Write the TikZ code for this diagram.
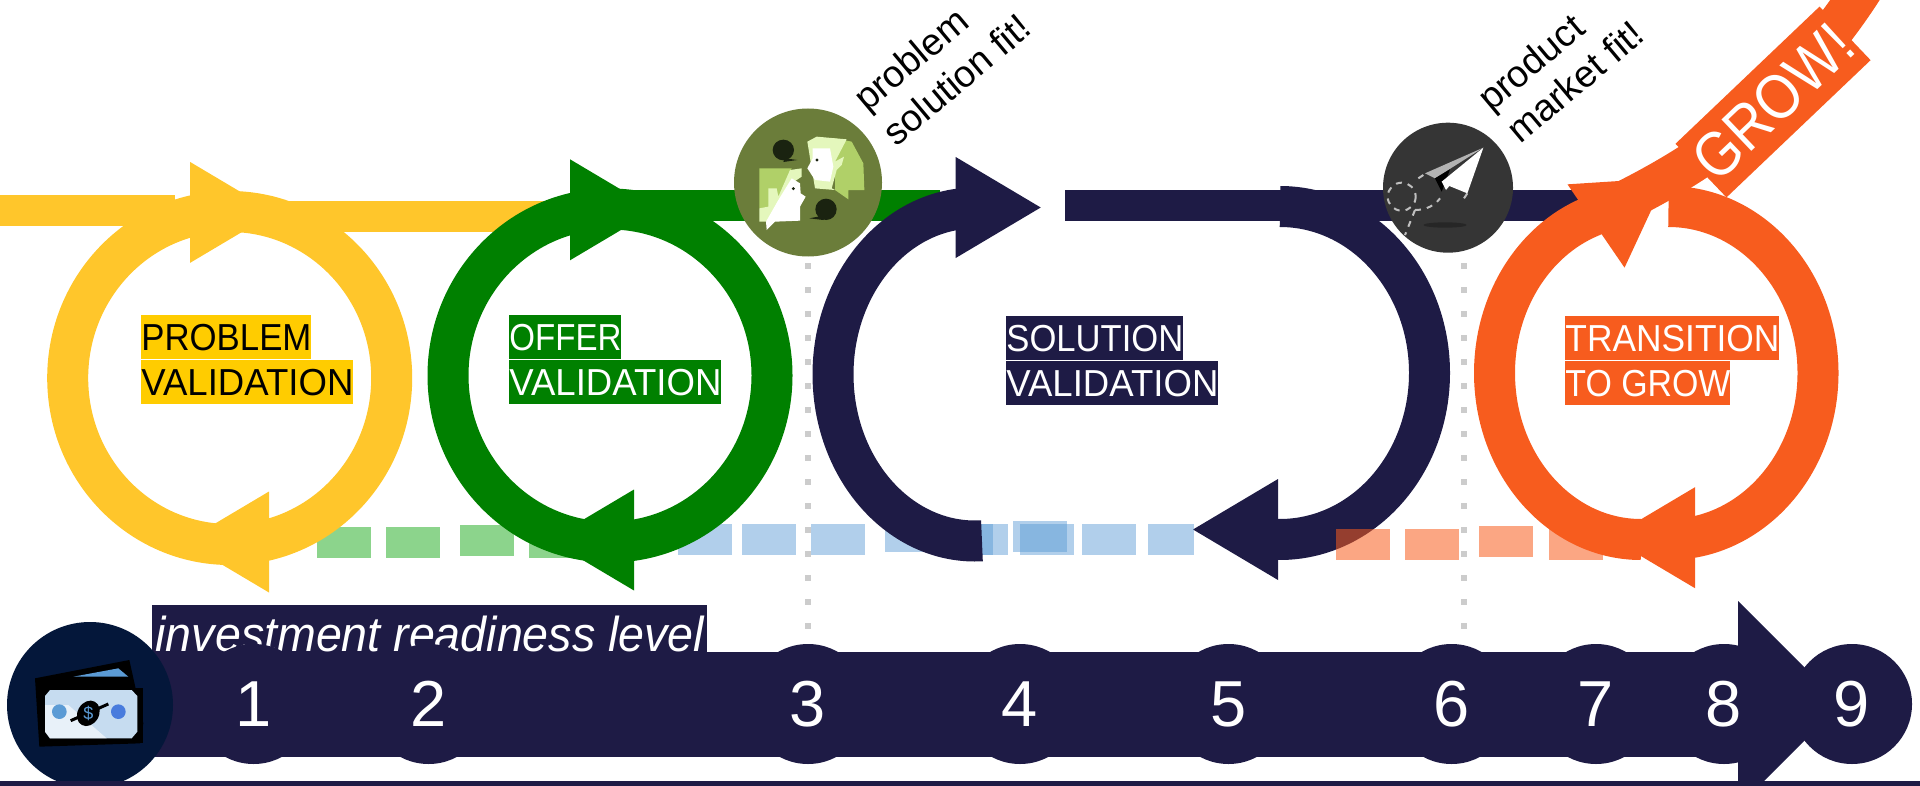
\documentclass[tikz,border=0pt]{standalone}
\usepackage{fontspec}
\usepackage{graphicx}
\usepackage{tikz}
\setmainfont{Liberation Sans}
\newfontfamily\tagfont[FakeStretch=0.95]{Liberation Sans}
\definecolor{sunc}{HTML}{FFC62B}
\definecolor{sunbg}{HTML}{FFCC00}
\definecolor{leafc}{HTML}{008000}
\definecolor{mintc}{HTML}{00A000}
\definecolor{skyc}{HTML}{5B9BD5}
\definecolor{nightc}{HTML}{1E1B45}
\definecolor{flamec}{HTML}{F75C1E}
\definecolor{olivec}{HTML}{6B7D3A}
\definecolor{limec}{HTML}{B0D068}
\definecolor{palec}{HTML}{E4F7BC}
\definecolor{inkc}{HTML}{1A2310}
\definecolor{coalc}{HTML}{353535}
\definecolor{deepc}{HTML}{04173A}
% big arrow head: base centre at (#1,#2), turned by #3
\newcommand{\bighead}[4]{\fill[#4, shift={(#1,#2)}, rotate=#3] (0,-50.5) -- (85,0) -- (0,50.5) -- cycle;}

\begin{document}
\begin{tikzpicture}[
    x=0.5pt, y=-0.5pt,
    ring/.style={line width=20.5pt},
    tagbox/.style={anchor=north west, inner sep=0pt, minimum height=22pt, font=\fontsize{18.8}{22}\selectfont},
    numdot/.style={circle, fill=nightc, text=white, inner sep=0pt, minimum size=60pt, font=\fontsize{32.5}{39}\selectfont},
    fitnote/.style={rotate=40, anchor=base west, inner sep=0pt, font=\fontsize{18.8}{23}\selectfont},
    dotline/.style={draw=black!20, line width=3pt, dash pattern=on 3pt off 9pt}
]
    \path[use as bounding box, clip] (0,0) rectangle (1920,786);

    % Bars behind the loops
    \fill[sunc] (0,195) rectangle (175,226);
    \fill[sunc] (174,201) rectangle (560,232);
    \fill[leafc] (625,190) rectangle (940,221);
    \fill[nightc] (1065,190) rectangle (1590,221);

    % Right half of the solution loop
    \draw[ring, nightc] (1280,373) ++(-90:149.5 and 166.5) arc[start angle=-90, end angle=93, x radius=149.5, y radius=166.5];
    \bighead{1278}{529.5}{180}{nightc}

    % Dashes under the loops
    \foreach \xa/\ya in {317/527, 386/527, 460/525, 529/527} {
        \fill[mintc, opacity=.45] (\xa,\ya) rectangle ++(54,31);
    }
    \foreach \xa/\ya in {678/524, 742/524, 811/524, 885/521, 939/524, 954/524, 1013/521, 1020/524, 1082/524} {
        \fill[skyc, opacity=.48] (\xa,\ya) rectangle ++(54,31);
    }
    \fill[skyc, opacity=.48] (1148,524) rectangle (1194,555);
    \foreach \xa/\ya in {1336/529, 1405/529, 1479/526, 1549/529} {
        \fill[flamec, opacity=.55] (\xa,\ya) rectangle ++(54,31);
    }

    % Loops
    \draw[ring, sunc] (229.7,378) ellipse [x radius=162, y radius=166.5];
    \bighead{190}{212.4}{0}{sunc}
    \bighead{269}{542}{180}{sunc}

    \draw[ring, leafc] (610,375.5) ellipse [x radius=162, y radius=166.5];
    \bighead{570}{209.8}{0}{leafc}
    \bighead{634}{540}{180}{leafc}

    \draw[ring, nightc] (975,374.5) ++(87.2:142 and 166.5) arc[start angle=87.2, end angle=265, x radius=142, y radius=166.5];
    \bighead{955.7}{207.5}{0}{nightc}

    \draw[ring, flamec] (1668.5,373) ++(-90:149.5 and 166.5) arc[start angle=-90, end angle=90, x radius=149.5, y radius=166.5];
    \bighead{1695}{537.7}{180}{flamec}
    \draw[ring, flamec] (1641,373) ++(90:146.5 and 166.5) arc[start angle=90, end angle=249.6, x radius=146.5, y radius=166.5]
        .. controls (1625,202) and (1660,183) .. (1687,166) .. controls (1760,120) and (1825,50) .. (1868,-20);
    \bighead{1596}{226}{34.4}{flamec}

    % Text tags inside the loops
    \foreach \id/\xa/\ya/\txta/\wa/\txtb/\wb/\bg/\fg in {
        prob/141/315/PROBLEM/85pt/VALIDATION/106pt/sunbg/black,
        offer/509/315/OFFER/56pt/VALIDATION/106pt/leafc/white,
        sol/1006/316/SOLUTION/88.5pt/VALIDATION/106pt/nightc/white,
        trans/1565/316/TRANSITION/107pt/TO GROW/82.5pt/flamec/white} {
        \node[tagbox, fill=\bg, text=\fg, minimum width=\wa] (\id A) at (\xa,\ya) {\resizebox{\wa}{\height}{\txta}};
        \node[tagbox, fill=\bg, text=\fg, minimum width=\wb] (\id B) at (\id A.south west) {\resizebox{\wb}{\height}{\txtb}};
    }

    % Grow label
    \node[rotate=43.6, fill=flamec, text=white, inner sep=0pt, minimum width=99.5pt, minimum height=37pt, font=\fontsize{31.5}{37}\selectfont] (grow) at (1773,102) {\resizebox{97pt}{\height}{GROW!}};

    % Fit markers
    \node[circle, fill=olivec, inner sep=0pt, minimum size=74pt] (fitA) at (808,182.5) {};
    \node[circle, fill=coalc, inner sep=0pt, minimum size=65pt] (fitB) at (1448,187.7) {};
    \coordinate (fitAtop) at (808,263);
    \coordinate (fitAend) at (808,630);
    \coordinate (fitBtop) at (1464,263);
    \coordinate (fitBend) at (1464,630);
    \draw[dotline] (fitAtop) -- (fitAend);
    \draw[dotline] (fitBtop) -- (fitBend);

    \node[fitnote] (noteA) at (867,113) {problem};
    \node[fitnote] (noteB) at (896,148) {solution fit!};
    \node[fitnote] (noteC) at (1491,113) {product};
    \node[fitnote] (noteD) at (1520,145) {market fit!};

    % Two faces talking
    \begin{scope}[shift={(720,100)}, x=0.16667pt, y=-0.16667pt]
        \fill[inkc] (190,150) ellipse [x radius=32, y radius=31];
        \fill[inkc] (195,175) -- (232,180) -- (190,186) -- cycle;
        \fill[inkc] (318,328) ellipse [x radius=32, y radius=32];
        \fill[inkc] (320,345) -- (268,355) -- (310,360) -- cycle;
        \fill[limec] (345,115) -- (395,125) -- (430,190) -- (433,270) -- (385,270) -- (385,298) -- (345,270) -- cycle;
        \fill[palec] (262,125) -- (290,110) -- (380,118) -- (345,185) -- (372,170) -- (365,195) -- (350,210) -- (335,265) -- (345,270) -- (285,265) -- cycle;
        \fill[white] (278,145) -- (330,145) -- (340,200) -- (330,245) -- (285,240) -- (262,205) -- (278,175) -- cycle;
        \fill[inkc] (291,180) circle [radius=5];
        \fill[limec] (118,205) -- (215,205) -- (170,325) -- (118,325) -- cycle;
        \fill[palec] (210,210) -- (245,205) -- (245,230) -- (215,250) -- (180,330) -- (150,365) -- (118,365) -- (118,325) -- (145,320) -- (145,265) -- (170,265) -- (175,290) -- cycle;
        \fill[white] (215,235) -- (240,250) -- (242,280) -- (257,290) -- (240,320) -- (240,362) -- (165,365) -- (140,390) -- (138,365) -- (175,300) -- cycle;
        \fill[inkc] (220,266) circle [radius=5];
    \end{scope}

    % Paper plane
    \begin{scope}[shift={(1370,110)}, x=0.16667pt, y=-0.16667pt]
        \fill[black!85] (225,345) ellipse [x radius=65, y radius=8];
        \draw[black!25, line width=1pt, dashed] (95,260) ellipse [x radius=42, y radius=42];
        \draw[black!25, line width=1pt, dashed] (135,300) -- (105,375);
        \draw[black!25, line width=1pt, dashed] (135,300) .. controls (170,300) and (195,285) .. (210,265);
        \draw[black!25, line width=1pt, dashed] (160,195) -- (145,205);
        \draw[black!25, line width=1pt, dashed] (292,250) -- (280,268);
        \fill[black!30] (340,113) -- (165,190) -- (195,205) -- cycle;
        \fill[black] (195,205) -- (215,245) -- (240,178) -- cycle;
        \fill[white] (340,113) -- (215,215) -- (228,240) -- (238,228) -- (292,250) -- cycle;
    \end{scope}

    % Readiness level bar
    \fill[nightc] (150,652) rectangle (1738,757);
    \fill[nightc] (1738,601) -- (1841,704) -- (1738,807) -- cycle;
    \node[anchor=north west, fill=nightc, text=white, inner sep=0pt, minimum width=277.5pt, minimum height=28.5pt, font=\tagfont\itshape\fontsize{24.5}{28}\selectfont] (level) at (152,605) {investment readiness level};
    \foreach \i/\xa in {1/253.6, 2/428.6, 3/808, 4/1020, 5/1228.5, 6/1451.6, 7/1596, 8/1724, 9/1852} {
        \node[numdot] (N\i) at (\xa,704) {\i};
    }

    % Money badge
    \node[circle, fill=deepc, inner sep=0pt, minimum size=83pt] (cash) at (90,705) {};
    \begin{scope}[shift={(0,610)}, x=0.16667pt, y=-0.16667pt]
        \fill[black] (105,205) -- (388,150) -- (430,340) -- (420,400) -- (118,410) -- cycle;
        \fill[skyc] (220,200) -- (355,175) -- (385,200) -- cycle;
        \fill[black] (118,235) rectangle (430,400);
        \fill[skyc!35!white] (150,240) -- (395,240) -- (412,258) -- (412,365) -- (395,385) -- (150,385) -- (135,365) -- (135,258) -- cycle;
        \fill[white, opacity=.6] (205,285) -- (320,385) -- (150,385) -- (135,365) -- (135,285) -- cycle;
        \fill[skyc] (178,305) circle [radius=22];
        \fill[skyc!80!blue] (355,305) circle [radius=22];
        \fill[black, rotate around={-30:(265,310)}] (265,310) ellipse [x radius=32, y radius=40];
        \draw[black, line width=1.5pt] (212,332) -- (325,282);
    \end{scope}
    \node[text=skyc, inner sep=0pt, font=\fontsize{9}{10}\selectfont] (dollar) at (88.3,713) {\$};

    % Strip along the lower edge
    \fill[nightc] (0,781) rectangle (1920,786);
\end{tikzpicture}
\end{document}
